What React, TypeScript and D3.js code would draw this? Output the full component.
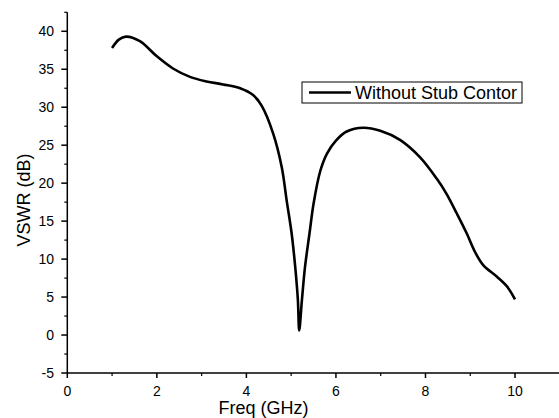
import React from "react";
import * as d3 from "d3";

const freq = [1.0, 1.15, 1.31, 1.62, 2.0, 2.36, 2.74, 3.11, 3.48, 3.86, 4.15, 4.34, 4.6, 4.79, 4.9, 5.01, 5.09, 5.15, 5.18, 5.24, 5.31, 5.41, 5.5, 5.65, 5.8, 6.0, 6.24, 6.61, 6.99, 7.43, 7.88, 8.25, 8.47, 8.7, 8.92, 9.11, 9.29, 9.59, 9.82, 10.0];
const vswr = [37.8, 38.9, 39.3, 38.7, 36.7, 35.1, 34.0, 33.4, 33.0, 32.5, 31.6, 30.2, 26.5, 22.1, 17.7, 13.4, 9.0, 4.6, 0.6, 4.6, 9.0, 13.4, 17.3, 21.6, 23.9, 25.6, 26.8, 27.3, 26.9, 25.7, 23.4, 20.6, 18.6, 16.0, 13.4, 10.9, 9.2, 7.7, 6.4, 4.7];

const xTicks = [0, 2, 4, 6, 8, 10];
const yTicks = [-5, 0, 5, 10, 15, 20, 25, 30, 35, 40];
const seriesName = "Without Stub Contor";

export default function App() {
  const W = 559, H = 418;
  const x = d3.scaleLinear().domain([0, 11]).range([67.3, 559.8]);
  const y = d3.scaleLinear().domain([-5, 42.5]).range([373, 12.3]);
  const pts = freq.map((f, i) => [f, vswr[i]] as [number, number]);
  const line = d3.line<[number, number]>().x(d => x(d[0])).y(d => y(d[1])).curve(d3.curveCatmullRom.alpha(0.5));
  const xMinor = d3.range(1, 12, 2);
  const yMinor = d3.range(-2.5, 43, 5);
  const font = "Arial, 'Liberation Sans', sans-serif";
  return (
    <svg width={W} height={H} style={{ position: "absolute", left: 0, top: 0, background: "#fff" }} fontFamily={font}>
      <rect width={W} height={H} fill="#fff" />
      <line x1={x(0)} x2={x(11)} y1={y(-5)} y2={y(-5)} stroke="#000" strokeWidth={1.5} />
      <line x1={x(0)} x2={x(0)} y1={y(-5)} y2={y(42.5)} stroke="#000" strokeWidth={1.5} />
      {xTicks.map(t => (
        <g key={"xt" + t}>
          <line x1={x(t)} x2={x(t)} y1={y(-5)} y2={y(-5) + 5} stroke="#000" strokeWidth={1.5} />
          <text x={x(t)} y={396} fontSize={14} textAnchor="middle" fill="#000">{t}</text>
        </g>
      ))}
      {xMinor.map(t => (
        <line key={"xm" + t} x1={x(t)} x2={x(t)} y1={y(-5)} y2={y(-5) + 3} stroke="#000" strokeWidth={1.2} />
      ))}
      {yTicks.map(t => (
        <g key={"yt" + t}>
          <line x1={x(0) - 6} x2={x(0)} y1={y(t)} y2={y(t)} stroke="#000" strokeWidth={1.5} />
          <text x={54} y={y(t) + 5} fontSize={14} textAnchor="end" fill="#000">{t}</text>
        </g>
      ))}
      {yMinor.map(t => (
        <line key={"ym" + t} x1={x(0) - 3} x2={x(0)} y1={y(t)} y2={y(t)} stroke="#000" strokeWidth={1.2} />
      ))}
      <text x={263.5} y={414} fontSize={18} textAnchor="middle" fill="#000">Freq (GHz)</text>
      <text transform="translate(29.5,200) rotate(-90)" fontSize={18} textAnchor="middle" fill="#000">VSWR (dB)</text>
      <path d={line(pts) || ""} fill="none" stroke="#000" strokeWidth={2.6} strokeLinejoin="round" />
      <rect x={302} y={82} width={220} height={21} fill="#fff" stroke="#000" strokeWidth={1} />
      <line x1={309} x2={351} y1={92.5} y2={92.5} stroke="#000" strokeWidth={2.6} />
      <text x={355} y={98.5} fontSize={18} fill="#000">{seriesName}</text>
    </svg>
  );
}
